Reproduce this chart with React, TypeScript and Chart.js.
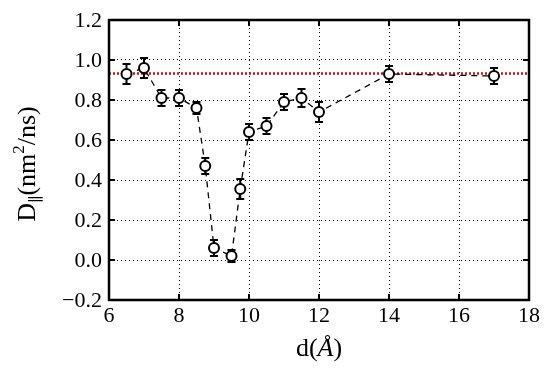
import React, { useEffect, useRef } from "react";
import { Chart, registerables } from "chart.js";

Chart.register(...registerables);

const dValues = [6.5, 7, 7.5, 8, 8.5, 8.75, 9, 9.5, 9.75, 10, 10.5, 11, 11.5, 12, 14, 17];
const dParallel = [0.93, 0.96, 0.81, 0.81, 0.76, 0.47, 0.06, 0.02, 0.355, 0.64, 0.67, 0.79, 0.81, 0.74, 0.93, 0.92];
const dError = [0.05, 0.05, 0.04, 0.04, 0.03, 0.04, 0.04, 0.03, 0.05, 0.04, 0.04, 0.04, 0.045, 0.05, 0.04, 0.04];
const referenceLevel = 0.933;
const xRange = [6, 18];
const yRange = [-0.2, 1.2];
const xStep = 2;
const yStep = 0.2;

const FONT = "'Liberation Serif', 'DejaVu Serif', serif";
const TICK_SIZE = 22;

const fmtY = (v: number) => {
  const n = Math.round(v * 10) / 10;
  return n < 0 ? "−" + Math.abs(n).toFixed(1) : n.toFixed(1);
};

const errorBarPlugin = {
  id: "errorBars",
  beforeDatasetsDraw(chart: any) {
    const ctx = chart.ctx;
    const xs = chart.scales.x;
    const ys = chart.scales.y;
    ctx.save();
    ctx.strokeStyle = "#000";
    ctx.lineWidth = 2;
    dValues.forEach((d, i) => {
      const px = xs.getPixelForValue(d);
      const top = ys.getPixelForValue(dParallel[i] + dError[i]);
      const bot = ys.getPixelForValue(dParallel[i] - dError[i]);
      ctx.beginPath();
      ctx.moveTo(px, top);
      ctx.lineTo(px, bot);
      ctx.moveTo(px - 4, top);
      ctx.lineTo(px + 4, top);
      ctx.moveTo(px - 4, bot);
      ctx.lineTo(px + 4, bot);
      ctx.stroke();
    });
    ctx.restore();
  },
};

const framePlugin = {
  id: "frame",
  afterDraw(chart: any) {
    const ctx = chart.ctx;
    const a = chart.chartArea;
    const xs = chart.scales.x;
    const ys = chart.scales.y;
    ctx.save();
    ctx.strokeStyle = "#000";
    ctx.lineWidth = 2;
    ctx.beginPath();
    xs.ticks.forEach((t: any) => {
      const px = xs.getPixelForValue(t.value);
      ctx.moveTo(px, a.bottom);
      ctx.lineTo(px, a.bottom - 6);
      ctx.moveTo(px, a.top);
      ctx.lineTo(px, a.top + 6);
    });
    ys.ticks.forEach((t: any) => {
      const py = ys.getPixelForValue(t.value);
      ctx.moveTo(a.left, py);
      ctx.lineTo(a.left + 6, py);
      ctx.moveTo(a.right, py);
      ctx.lineTo(a.right - 6, py);
    });
    ctx.stroke();
    ctx.lineWidth = 2.5;
    ctx.strokeRect(a.left, a.top, a.right - a.left, a.bottom - a.top);

    // tick labels
    ctx.fillStyle = "#000";
    ctx.font = `${TICK_SIZE}px ${FONT}`;
    ctx.textAlign = "center";
    ctx.textBaseline = "middle";
    xs.ticks.forEach((t: any) => {
      const px = xs.getPixelForValue(t.value);
      ctx.fillText(String(t.value), px, a.bottom + 16);
    });
    ctx.textAlign = "right";
    ys.ticks.forEach((t: any) => {
      const py = ys.getPixelForValue(t.value);
      ctx.fillText(fmtY(t.value), a.left - 7, py + 1);
    });

    // x title: d(Å)
    ctx.textAlign = "left";
    ctx.textBaseline = "alphabetic";
    const cx = (a.left + a.right) / 2;
    const by = a.bottom + 56;
    const sz = 26;
    ctx.font = `${sz}px ${FONT}`;
    const p1 = "d(";
    const p3 = ")";
    const w1 = ctx.measureText(p1).width;
    const w3 = ctx.measureText(p3).width;
    ctx.font = `italic ${sz}px ${FONT}`;
    const p2 = "Å";
    const w2 = ctx.measureText(p2).width;
    const x0 = cx - (w1 + w2 + w3) / 2;
    ctx.font = `${sz}px ${FONT}`;
    ctx.fillText(p1, x0, by);
    ctx.font = `italic ${sz}px ${FONT}`;
    ctx.fillText(p2, x0 + w1, by);
    ctx.font = `${sz}px ${FONT}`;
    ctx.fillText(p3, x0 + w1 + w2, by);

    // y title: D∥(nm²/ns)
    ctx.translate(35, (a.top + a.bottom) / 2 + 4);
    ctx.rotate(-Math.PI / 2);
    const parts = [
      { t: "D", size: 26, dy: 0 },
      { t: "∥", size: 16, dy: 6 },
      { t: "(nm", size: 26, dy: 0 },
      { t: "2", size: 17, dy: -11 },
      { t: "/ns)", size: 26, dy: 0 },
    ];
    let total = 0;
    parts.forEach((p) => {
      ctx.font = `${p.size}px ${FONT}`;
      total += ctx.measureText(p.t).width;
    });
    let x = -total / 2;
    parts.forEach((p) => {
      ctx.font = `${p.size}px ${FONT}`;
      ctx.fillText(p.t, x, p.dy);
      x += ctx.measureText(p.t).width;
    });
    ctx.restore();
  },
};

export default function App() {
  const ref = useRef<HTMLCanvasElement | null>(null);
  useEffect(() => {
    if (!ref.current) return;
    const chart = new Chart(ref.current, {
      type: "line",
      data: {
        datasets: [
          {
            data: dValues.map((d, i) => ({ x: d, y: dParallel[i] })),
            borderColor: "#000",
            borderWidth: 1.3,
            borderDash: [6, 5],
            pointRadius: 5,
            pointBorderWidth: 2,
            pointBackgroundColor: "#fff",
            pointBorderColor: "#000",
            fill: false,
            tension: 0,
            order: 1,
          },
          {
            data: [
              { x: xRange[0], y: referenceLevel },
              { x: xRange[1], y: referenceLevel },
            ],
            borderColor: "#cc1111",
            borderWidth: 2.5,
            borderDash: [2, 2],
            pointRadius: 0,
            fill: false,
            order: 2,
          },
        ],
      },
      options: {
        animation: false,
        responsive: false,
        layout: { padding: { top: 20, right: 21, left: 0, bottom: 0 } },
        plugins: { legend: { display: false }, tooltip: { enabled: false } },
        scales: {
          x: {
            type: "linear",
            min: xRange[0],
            max: xRange[1],
            afterFit: (s: any) => {
              s.height = 73;
            },
            ticks: { stepSize: xStep, display: false },
            grid: { color: "#000", lineWidth: 1, drawTicks: false },
            border: { display: false, dash: [1, 3] },
          },
          y: {
            type: "linear",
            min: yRange[0],
            max: yRange[1],
            afterFit: (s: any) => {
              s.width = 109;
            },
            ticks: { stepSize: yStep, display: false },
            grid: { color: "#000", lineWidth: 1, drawTicks: false },
            border: { display: false, dash: [1, 3] },
          },
        },
      },
      plugins: [errorBarPlugin, framePlugin],
    } as any);
    return () => chart.destroy();
  }, []);
  return (
    <div style={{ position: "fixed", left: 0, top: 0, width: 550, height: 373, background: "#fff" }}>
      <canvas ref={ref} width={550} height={373} style={{ width: 550, height: 373 }} />
    </div>
  );
}
